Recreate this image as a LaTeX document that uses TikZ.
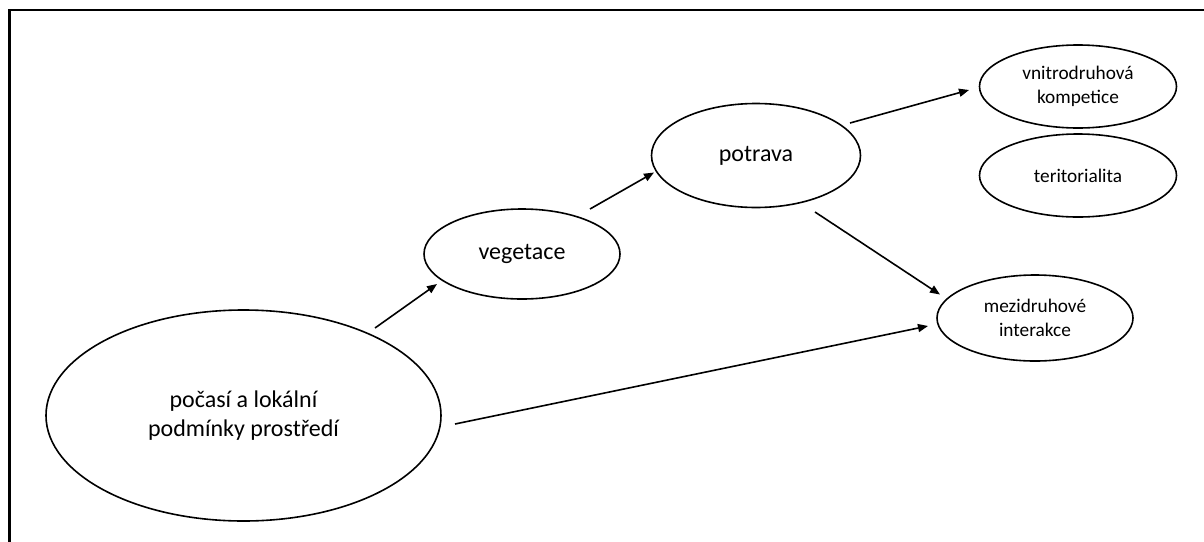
\documentclass[tikz,border=0pt]{standalone}
\usepackage{fontspec}
\setmainfont{Carlito}
\usetikzlibrary{shapes.geometric,arrows.meta}
\tikzset{
  oval/.style={ellipse, draw=black, line width=1.6pt, inner sep=0pt, align=center, fill=white},
  bigtext/.style={font=\fontsize{24}{29.3}\selectfont},
  smalltext/.style={font=\fontsize{19.3}{23.4}\selectfont},
  conn/.style={line width=1.6pt, -{Triangle[length=10pt,width=8pt]}},
  frameline/.style={line width=2.5pt, line cap=rect}
}
\begin{document}
\begin{tikzpicture}[x=1pt,y=-1pt]
\useasboundingbox (0,0) rectangle (1204,541);
\fill[white] (0,0) rectangle (1204,541);
\coordinate (fa) at (9.5,541);
\coordinate (fb) at (9.5,10);
\coordinate (fc) at (1204,10);
\draw[frameline] (fa) -- (fb) -- (fc);

\node[oval, bigtext, minimum width=395pt, minimum height=211pt] (poc) at (243.5,415.5) {počasí a lokální\\podmínky prostředí};
\node[oval, bigtext, minimum width=196pt, minimum height=90pt] (veg) at (522,254) {vegetace};
\node[oval, bigtext, minimum width=209pt, minimum height=104pt] (pot) at (756,155.5) {potrava};
\node[oval, smalltext, minimum width=197pt, minimum height=83pt] (vni) at (1078,86.5) {vnitrodruhová\\kompetice};
\node[oval, smalltext, minimum width=197pt, minimum height=83pt] (ter) at (1078,175.5) {teritorialita};
\node[oval, smalltext, minimum width=196pt, minimum height=86pt] (mez) at (1035,318) {mezidruhové\\interakce};

\coordinate (a1s) at (375,328);  \coordinate (a1e) at (437,284);
\coordinate (a2s) at (590,209);  \coordinate (a2e) at (654,172.5);
\coordinate (a3s) at (850,123);  \coordinate (a3e) at (969,90);
\coordinate (a4s) at (815,212);  \coordinate (a4e) at (940,294.5);
\coordinate (a5s) at (455,424);  \coordinate (a5e) at (928,326);

\draw[conn] (a1s) -- (a1e);
\draw[conn] (a2s) -- (a2e);
\draw[conn] (a3s) -- (a3e);
\draw[conn] (a4s) -- (a4e);
\draw[conn] (a5s) -- (a5e);
\end{tikzpicture}
\end{document}
